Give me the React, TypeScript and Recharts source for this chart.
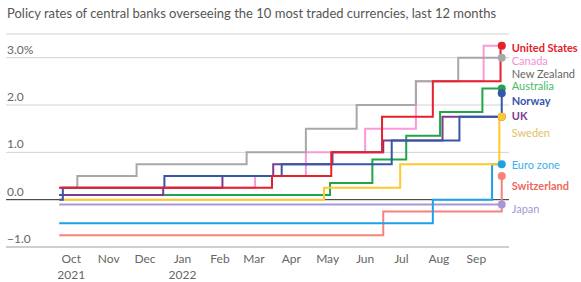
import React from "react";
import {
  LineChart,
  Line,
  XAxis,
  YAxis,
  CartesianGrid,
  ReferenceLine,
} from "recharts";

// policy rate changes, [effective date, rate %]
const START = "2021-09-21";
const END = "2022-09-22";

const unitedStates: [string, number][] = [
  [START, 0.25], ["2022-03-16", 0.5], ["2022-05-04", 1.0], ["2022-06-15", 1.75],
  ["2022-07-27", 2.5], ["2022-09-21", 3.25],
];
const canada: [string, number][] = [
  [START, 0.25], ["2022-03-02", 0.5], ["2022-04-13", 1.0], ["2022-06-01", 1.5],
  ["2022-07-13", 2.5], ["2022-09-07", 3.25],
];
const newZealand: [string, number][] = [
  [START, 0.25], ["2021-10-06", 0.5], ["2021-11-24", 0.75], ["2022-02-23", 1.0],
  ["2022-04-13", 1.5], ["2022-05-25", 2.0], ["2022-07-13", 2.5], ["2022-08-17", 3.0],
];
const australia: [string, number][] = [
  [START, 0.1], ["2022-05-03", 0.35], ["2022-06-07", 0.85], ["2022-07-05", 1.35],
  ["2022-08-02", 1.85], ["2022-09-06", 2.35],
];
const norway: [string, number][] = [
  [START, 0], ["2021-09-24", 0.25], ["2021-12-17", 0.5], ["2022-03-24", 0.75],
  ["2022-06-23", 1.25], ["2022-08-18", 1.75], ["2022-09-22", 2.25],
];
const uk: [string, number][] = [
  [START, 0.1], ["2021-12-16", 0.25], ["2022-02-03", 0.5], ["2022-03-17", 0.75],
  ["2022-05-05", 1.0], ["2022-06-16", 1.25], ["2022-08-04", 1.75],
];
const sweden: [string, number][] = [
  [START, 0], ["2022-04-28", 0.25], ["2022-06-30", 0.75], ["2022-09-20", 1.75],
];
const euroZone: [string, number][] = [
  [START, -0.5], ["2022-07-27", 0], ["2022-09-14", 0.75],
];
const switzerland: [string, number][] = [
  [START, -0.75], ["2022-06-16", -0.25], ["2022-09-22", 0.5],
];
const japan: [string, number][] = [[START, -0.1]];

const yTicks = [-1, 0, 1, 2, 3];
const yTickLabels = ["\u22121.0", "0.0", "1.0", "2.0", "3.0%"];
const monthTicks = [
  "2021-10-01", "2021-11-01", "2021-12-01", "2022-01-01", "2022-02-01", "2022-03-01",
  "2022-04-01", "2022-05-01", "2022-06-01", "2022-07-01", "2022-08-01", "2022-09-01",
];
const monthLabels = ["Oct", "Nov", "Dec", "Jan", "Feb", "Mar", "Apr", "May", "Jun", "Jul", "Aug", "Sep"];
const yearLabels: Record<number, string> = { 0: "2021", 3: "2022" };

const toTs = (d: string) => Date.parse(d + "T00:00:00Z");
const FONT = "Lato, 'Open Sans', sans-serif";

function build(rows: [string, number][]) {
  const pts = rows.map(([d, v]) => ({ t: toTs(d), v }));
  pts.push({ t: toTs(END), v: rows[rows.length - 1][1] });
  return pts;
}

// drawn bottom to top
const series = [
  { name: "Japan", rows: japan, color: "#a897d6", text: "#a897d6", bold: false, dy: 4 },
  { name: "Switzerland", rows: switzerland, color: "#f8827a", text: "#f0675d", bold: true, dy: 9 },
  { name: "Euro zone", rows: euroZone, color: "#1ba1e8", text: "#3bb0ec", bold: false, dy: 0 },
  { name: "Canada", rows: canada, color: "#f99ad9", text: "#f28fd2", bold: false, dy: 15 },
  { name: "New Zealand", rows: newZealand, color: "#a8a8a8", text: "#666666", bold: false, dy: 16 },
  { name: "Australia", rows: australia, color: "#20a548", text: "#45bd66", bold: false, dy: -3 },
  { name: "UK", rows: uk, color: "#7b3b90", text: "#7b3b90", bold: true, dy: -1 },
  { name: "Sweden", rows: sweden, color: "#fdc92c", text: "#e2c25e", bold: false, dy: 16 },
  { name: "Norway", rows: norway, color: "#3656a8", text: "#3656a8", bold: true, dy: 7 },
  { name: "United States", rows: unitedStates, color: "#e5212b", text: "#e5212b", bold: true, dy: 2 },
];

function XTick({ x, payload }: any) {
  const i = monthTicks.findIndex((m) => toTs(m) === payload.value);
  return (
    <g>
      <text x={x} y={263} textAnchor="middle" fontSize={12} fill="#666" fontFamily={FONT}>
        {monthLabels[i]}
      </text>
      {yearLabels[i] && (
        <text x={x} y={279} textAnchor="middle" fontSize={12} fill="#666" fontFamily={FONT}>
          {yearLabels[i]}
        </text>
      )}
    </g>
  );
}

export default function App() {
  return (
    <div style={{ position: "absolute", left: 0, top: 0, width: 581, height: 282, background: "#fff" }}>
      <div
        style={{
          position: "absolute",
          left: 7,
          top: 5,
          fontFamily: FONT,
          fontSize: 13,
          color: "#555",
          whiteSpace: "nowrap",
        }}
      >
        Policy rates of central banks overseeing the 10 most traded currencies, last 12 months
      </div>
      <LineChart width={581} height={282} margin={{ top: 34, right: 72, bottom: 5, left: 6 }}>
        <CartesianGrid horizontal vertical={false} stroke="#d2d2d2" />
        <XAxis
          type="number"
          dataKey="t"
          domain={[toTs("2021-08-08"), toTs("2022-09-28")]}
          ticks={monthTicks.map(toTs)}
          interval={0}
          tick={<XTick />}
          tickLine={false}
          axisLine={{ stroke: "#cfcfcf", strokeWidth: 2 }}
          height={30}
        />
        <YAxis type="number" domain={[-1, 3.5]} ticks={yTicks} hide />
        {yTicks.map((v, i) => (
          <ReferenceLine
            key={v}
            y={v}
            stroke={v === 0 ? "#333" : "none"}
            strokeWidth={1}
            label={(p: any) => (
              <text
                x={p.viewBox.x + 1}
                y={p.viewBox.y - 4}
                fontSize={12}
                fill="#666"
                fontFamily={FONT}
              >
                {yTickLabels[i]}
              </text>
            )}
          />
        ))}
        {series.map((s) => {
          const data = build(s.rows);
          return (
            <Line
              key={s.name}
              data={data}
              dataKey="v"
              type="stepAfter"
              stroke={s.color}
              strokeWidth={2}
              isAnimationActive={false}
              dot={(p: any) => {
                if (p.index !== data.length - 1) return <g key={p.index} />;
                return (
                  <g key={p.index}>
                    <circle cx={p.cx} cy={p.cy} r={4} fill={s.color} />
                    <text
                      x={p.cx + 10}
                      y={p.cy + s.dy}
                      dominantBaseline="central"
                      fontSize={11}
                      fontWeight={s.bold ? 700 : 400}
                      fill={s.text}
                      fontFamily={FONT}
                    >
                      {s.name}
                    </text>
                  </g>
                );
              }}
              activeDot={false}
            />
          );
        })}
      </LineChart>
    </div>
  );
}
